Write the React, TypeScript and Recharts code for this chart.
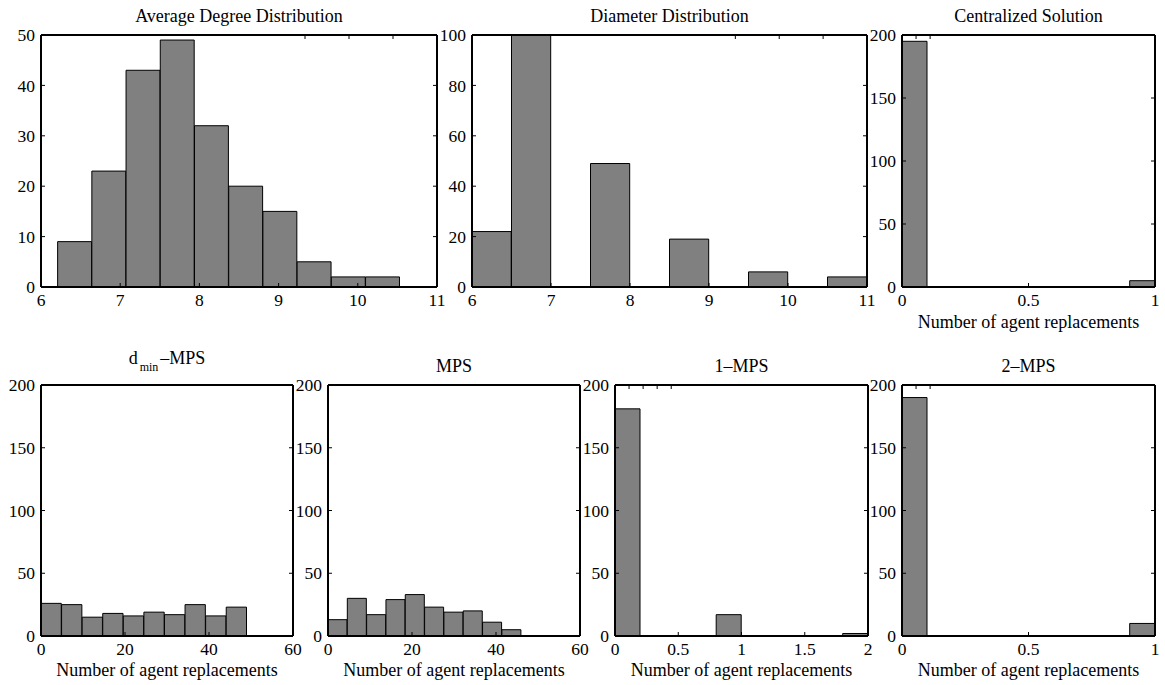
import React from 'react';
import { BarChart, Bar, XAxis, YAxis } from 'recharts';

// histogram counts
const avgDegreeCounts = [9, 23, 43, 49, 32, 20, 15, 5, 2, 2];
const diameterCounts = [22, 100, 0, 49, 0, 19, 0, 6, 0, 4];
const centralizedCounts = [195, 0, 0, 0, 0, 0, 0, 0, 0, 5];
const dminMpsCounts = [26, 25, 15, 18, 16, 19, 17, 25, 16, 23];
const mpsCounts = [13, 30, 17, 29, 33, 23, 19, 20, 11, 5];
const oneMpsCounts = [181, 0, 0, 0, 17, 0, 0, 0, 0, 2];
const twoMpsCounts = [190, 0, 0, 0, 0, 0, 0, 0, 0, 10];

// bin layout (start, width) of each histogram
const avgDegreeBins = { start: 6.21, width: 0.432 };
const diameterBins = { start: 6, width: 0.5 };
const centralizedBins = { start: 0, width: 0.1 };
const dminMpsBins = { start: 0, width: 4.9 };
const mpsBins = { start: 0, width: 4.6 };
const oneMpsBins = { start: 0, width: 0.2 };
const twoMpsBins = { start: 0, width: 0.1 };

// tick labels
const degreeTicks = [6, 7, 8, 9, 10, 11];
const avgCountTicks = [0, 10, 20, 30, 40, 50];
const diamCountTicks = [0, 20, 40, 60, 80, 100];
const unitTicks = [0, 0.5, 1];
const twoTicks = [0, 0.5, 1, 1.5, 2];
const sixtyTicks = [0, 20, 40, 60];
const replCountTicks = [0, 50, 100, 150, 200];

const FONT = '"Liberation Serif", "Times New Roman", serif';
const FS = 17.5;
const TITLE_FS = 18;
const TICK = 4;
const XMARGIN = 7;
const YMARGIN = 6;

const ML = 45;
const MR = 15;
const MT = 20;
const MB = 40;

const toRows = (counts: number[], bins: { start: number; width: number }) =>
  counts.map((c, i) => ({ x: bins.start + (i + 0.5) * bins.width, count: c }));

const tickText: React.CSSProperties = { fontFamily: FONT, fontSize: FS };

const BottomTick = (props: any) => {
  const { x, y, payload } = props;
  return (
    <g>
      <line x1={x} x2={x} y1={y - XMARGIN} y2={y - XMARGIN - TICK} stroke="#000" />
      <text x={x} y={y} dy="0.71em" textAnchor="middle" fill="#000" style={tickText}>
        {payload.value}
      </text>
    </g>
  );
};

const LeftTick = (props: any) => {
  const { x, y, payload } = props;
  return (
    <g>
      <line x1={x + YMARGIN} x2={x + YMARGIN + TICK} y1={y} y2={y} stroke="#000" />
      <text x={x} y={y} dy="0.355em" textAnchor="end" fill="#000" style={tickText}>
        {payload.value}
      </text>
    </g>
  );
};

const TopTick = (props: any) => {
  const { x, y } = props;
  return <line x1={x} x2={x} y1={y} y2={y + TICK} stroke="#000" />;
};

const RightTick = (props: any) => {
  const { x, y } = props;
  return <line x1={x} x2={x - TICK} y1={y} y2={y} stroke="#000" />;
};

type PanelProps = {
  px: number;
  py: number;
  pw: number;
  ph: number;
  counts: number[];
  bins: { start: number; width: number };
  xDomain: [number, number];
  xTicks: number[];
  yDomain: [number, number];
  yTicks: number[];
};

const Panel: React.FC<PanelProps> = ({ px, py, pw, ph, counts, bins, xDomain, xTicks, yDomain, yTicks }) => {
  const data = toRows(counts, bins);
  // recharts shrinks a bar that fills its whole band, so stay a hair under it
  const barSize = (bins.width / (xDomain[1] - xDomain[0])) * pw - 0.3;
  return (
    <div style={{ position: 'absolute', left: px - ML, top: py - MT, fontFamily: FONT }}>
      <BarChart
        width={pw + ML + MR}
        height={ph + MT + MB}
        data={data}
        margin={{ top: MT - 1, right: MR - 1, bottom: 0, left: 0 }}
        barCategoryGap={0}
        barGap={0}
      >
        <XAxis
          dataKey="x"
          type="number"
          domain={xDomain}
          ticks={xTicks}
          interval={0}
          allowDataOverflow
          height={MB}
          tickSize={0}
          tickMargin={XMARGIN}
          tickLine={false}
          tick={<BottomTick />}
          axisLine={{ stroke: '#000', strokeWidth: 2 }}
        />
        <XAxis
          xAxisId="top"
          orientation="top"
          type="number"
          domain={xDomain}
          ticks={xTicks}
          interval={0}
          allowDataOverflow
          height={1}
          tickSize={0}
          tickMargin={0}
          tickLine={false}
          tick={<TopTick />}
          axisLine={{ stroke: '#000', strokeWidth: 2 }}
        />
        <YAxis
          type="number"
          domain={yDomain}
          ticks={yTicks}
          interval={0}
          allowDataOverflow
          width={ML}
          tickSize={0}
          tickMargin={YMARGIN}
          tickLine={false}
          tick={<LeftTick />}
          axisLine={{ stroke: '#000', strokeWidth: 2 }}
        />
        <YAxis
          yAxisId="right"
          orientation="right"
          type="number"
          domain={yDomain}
          ticks={yTicks}
          interval={0}
          allowDataOverflow
          width={1}
          tickSize={0}
          tickMargin={0}
          tickLine={false}
          tick={<RightTick />}
          axisLine={{ stroke: '#000', strokeWidth: 2 }}
        />
        <Bar dataKey="count" fill="#808080" stroke="#000" strokeWidth={1} barSize={barSize} isAnimationActive={false} />
      </BarChart>
    </div>
  );
};

const textStyle = (cx: number, baseline: number): React.CSSProperties => ({
  position: 'absolute',
  left: cx - 200,
  width: 400,
  top: baseline - 14,
  textAlign: 'center',
  fontFamily: FONT,
  fontSize: TITLE_FS,
  lineHeight: '17px',
  color: '#000',
  whiteSpace: 'nowrap',
});

const Caption: React.FC<{ cx: number; baseline: number; children: React.ReactNode }> = ({ cx, baseline, children }) => (
  <div style={textStyle(cx, baseline)}>{children}</div>
);

const XLABEL = 'Number of agent replacements';

const App: React.FC = () => {
  const topY = 35;
  const topH = 252;
  const botY = 385;
  const botH = 251;
  return (
    <div style={{ position: 'absolute', left: 0, top: 0, width: 1165, height: 685, background: '#fff', overflow: 'hidden', fontFamily: FONT }}>
      <Panel px={41} py={topY} pw={396} ph={topH} counts={avgDegreeCounts} bins={avgDegreeBins}
        xDomain={[6, 11]} xTicks={degreeTicks} yDomain={[0, 50]} yTicks={avgCountTicks} />
      <Panel px={472} py={topY} pw={395} ph={topH} counts={diameterCounts} bins={diameterBins}
        xDomain={[6, 11]} xTicks={degreeTicks} yDomain={[0, 100]} yTicks={diamCountTicks} />
      <Panel px={902} py={topY} pw={253} ph={topH} counts={centralizedCounts} bins={centralizedBins}
        xDomain={[0, 1]} xTicks={unitTicks} yDomain={[0, 200]} yTicks={replCountTicks} />

      <Panel px={41} py={botY} pw={252} ph={botH} counts={dminMpsCounts} bins={dminMpsBins}
        xDomain={[0, 60]} xTicks={sixtyTicks} yDomain={[0, 200]} yTicks={replCountTicks} />
      <Panel px={328} py={botY} pw={252} ph={botH} counts={mpsCounts} bins={mpsBins}
        xDomain={[0, 60]} xTicks={sixtyTicks} yDomain={[0, 200]} yTicks={replCountTicks} />
      <Panel px={615} py={botY} pw={253} ph={botH} counts={oneMpsCounts} bins={oneMpsBins}
        xDomain={[0, 2]} xTicks={twoTicks} yDomain={[0, 200]} yTicks={replCountTicks} />
      <Panel px={902} py={botY} pw={253} ph={botH} counts={twoMpsCounts} bins={twoMpsBins}
        xDomain={[0, 1]} xTicks={unitTicks} yDomain={[0, 200]} yTicks={replCountTicks} />

      <Caption cx={239} baseline={22}>Average Degree Distribution</Caption>
      <Caption cx={669.5} baseline={22}>Diameter Distribution</Caption>
      <Caption cx={1028.5} baseline={22}>Centralized Solution</Caption>
      <Caption cx={1028.5} baseline={328}>{XLABEL}</Caption>

      <Caption cx={167} baseline={364}>
        d<span style={{ fontSize: 12, position: 'relative', top: 7, margin: '0 2px' }}>min</span>–MPS
      </Caption>
      <Caption cx={454} baseline={372}>MPS</Caption>
      <Caption cx={741.5} baseline={372}>1–MPS</Caption>
      <Caption cx={1028.5} baseline={372}>2–MPS</Caption>

      <Caption cx={167} baseline={676}>{XLABEL}</Caption>
      <Caption cx={454} baseline={676}>{XLABEL}</Caption>
      <Caption cx={741.5} baseline={676}>{XLABEL}</Caption>
      <Caption cx={1028.5} baseline={676}>{XLABEL}</Caption>
    </div>
  );
};

export default App;
